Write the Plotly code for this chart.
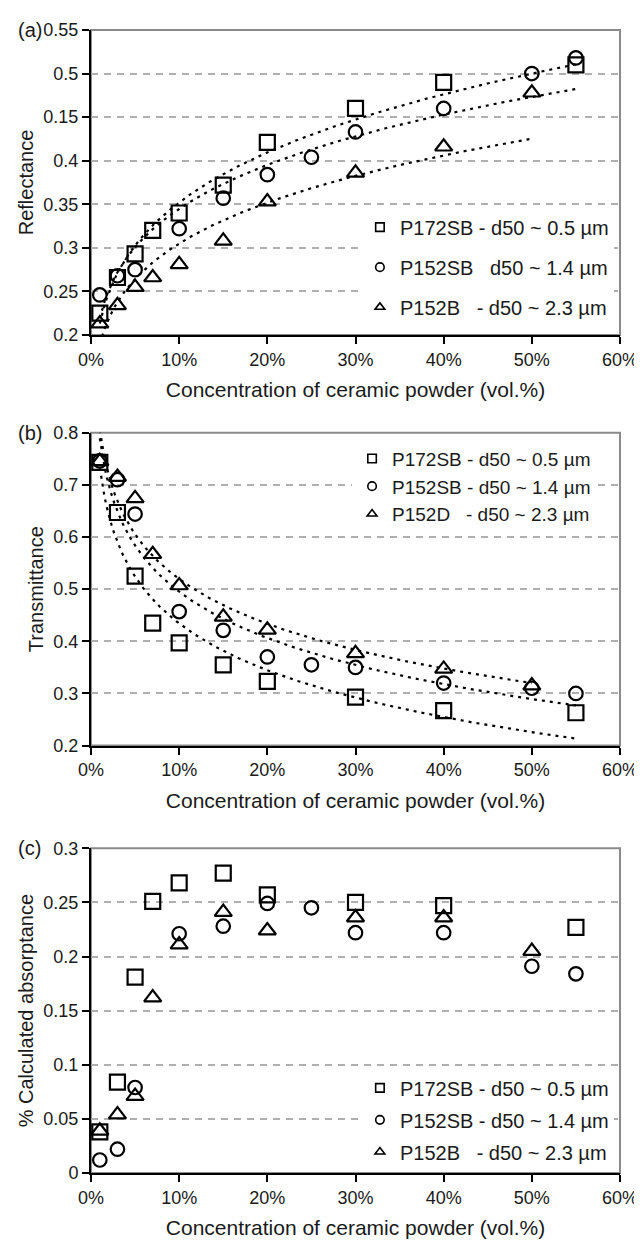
import numpy as np
import plotly.graph_objects as go

# ---------------- data ----------------
conc_p172sb = [1, 3, 5, 7, 10, 15, 20, 30, 40, 55]
conc_p152sb = [1, 3, 5, 10, 15, 20, 25, 30, 40, 50, 55]
conc_p152b = [1, 3, 5, 7, 10, 15, 20, 30, 40, 50]

refl_p172sb = [0.225, 0.266, 0.293, 0.320, 0.340, 0.372, 0.421, 0.460, 0.490, 0.510]
refl_p152sb = [0.246, 0.268, 0.275, 0.322, 0.357, 0.384, 0.404, 0.433, 0.460, 0.500, 0.518]
refl_p152b = [0.213, 0.234, 0.255, 0.266, 0.281, 0.308, 0.353, 0.386, 0.416, 0.478]

trans_p172sb = [0.743, 0.647, 0.525, 0.435, 0.397, 0.355, 0.323, 0.293, 0.267, 0.263]
trans_p152sb = [0.746, 0.710, 0.644, 0.457, 0.421, 0.370, 0.355, 0.350, 0.320, 0.310, 0.300]
trans_p152b = [0.745, 0.715, 0.674, 0.567, 0.507, 0.447, 0.422, 0.377, 0.347, 0.315]

abs_p172sb = [0.038, 0.084, 0.181, 0.251, 0.268, 0.277, 0.257, 0.250, 0.247, 0.227]
abs_p152sb = [0.012, 0.022, 0.079, 0.221, 0.228, 0.249, 0.245, 0.222, 0.222, 0.191, 0.184]
abs_p152b = [0.039, 0.054, 0.071, 0.162, 0.211, 0.241, 0.224, 0.236, 0.236, 0.205]

legend_a = ["P172SB - d50 ~ 0.5 µm", "P152SB \u00a0 d50 ~ 1.4 µm", "P152B \u00a0 - d50 ~ 2.3 µm"]
legend_b = ["P172SB - d50 ~ 0.5 µm", "P152SB - d50 ~ 1.4 µm", "P152D \u00a0 - d50 ~ 2.3 µm"]
legend_c = ["P172SB - d50 ~ 0.5 µm", "P152SB - d50 ~ 1.4 µm", "P152B \u00a0 - d50 ~ 2.3 µm"]

x_ticks = [0, 10, 20, 30, 40, 50, 60]
x_ticktext = ["0%", "10%", "20%", "30%", "40%", "50%", "60%"]
ya_ticks = [0.2, 0.25, 0.3, 0.35, 0.4, 0.45, 0.5, 0.55]
ya_ticktext = ["0.2", "0.25", "0.3", "0.35", "0.4", "0.15", "0.5", "0.55"]
yb_ticks = [0.2, 0.3, 0.4, 0.5, 0.6, 0.7, 0.8]
yb_ticktext = ["0.2", "0.3", "0.4", "0.5", "0.6", "0.7", "0.8"]
yc_ticks = [0, 0.05, 0.1, 0.15, 0.2, 0.25, 0.3]
yc_ticktext = ["0", "0.05", "0.1", "0.15", "0.2", "0.25", "0.3"]

x_title = "Concentration of ceramic powder (vol.%)"
FONT = "Liberation Sans, Arial, sans-serif"


def power_fit(x, y):
    b, ln_a = np.polyfit(np.log(x), np.log(y), 1)
    xs = np.linspace(min(x), max(x), 200)
    return xs, np.exp(ln_a) * xs ** b


def log_fit(x, y):
    s, c = np.polyfit(np.log(x), y, 1)
    xs = np.linspace(min(x), max(x), 200)
    return xs, s * np.log(xs) + c


symbols = ["square-open", "circle-open", "triangle-up-open"]
msizes = [15, 13.5, 15]
concs = [conc_p172sb, conc_p152sb, conc_p152b]

panels = [
    ("x", "y", "legend", [refl_p172sb, refl_p152sb, refl_p152b], legend_a, power_fit),
    ("x2", "y2", "legend2", [trans_p172sb, trans_p152sb, trans_p152b], legend_b, log_fit),
    ("x3", "y3", "legend3", [abs_p172sb, abs_p152sb, abs_p152b], legend_c, None),
]

fig = go.Figure()
for xa, ya, lg, series, labels, fit in panels:
    if fit is not None:
        for cx, vals in zip(concs, series):
            fx, fy = fit(cx, vals)
            fig.add_trace(go.Scatter(x=fx, y=fy, mode="lines", xaxis=xa, yaxis=ya,
                                     line=dict(color="black", width=2.2, dash="3px,5px"),
                                     showlegend=False, hoverinfo="skip"))
    for i, (cx, vals) in enumerate(zip(concs, series)):
        fig.add_trace(go.Scatter(x=cx, y=vals, mode="markers", xaxis=xa, yaxis=ya,
                                 marker=dict(symbol=symbols[i], size=msizes[i], color="black",
                                             line=dict(color="black", width=2.2)),
                                 showlegend=False, cliponaxis=False))
    for i, lab in enumerate(labels):
        fig.add_trace(go.Scatter(x=[None], y=[None], mode="markers", xaxis=xa, yaxis=ya,
                                 name=lab, legend=lg, legendgroup=f"{lg}{i}",
                                 marker=dict(symbol=symbols[i], size=8.5, color="black",
                                             line=dict(color="black", width=1.6))))

ML, MR, MT, MB = 83, 20, 16, 66
W, H = 642, 1240
PH = H - MT - MB


def ydom(top_px, bot_px):
    return [(H - MB - bot_px) / PH, (H - MB - top_px) / PH]


def px_y(ypx):
    return (H - MB - ypx) / PH


def px_x(xpx):
    return (xpx - ML) / (W - ML - MR)


doms = [ydom(16, 325), ydom(424, 741), ydom(845, 1174)]
ranges = [[0.2, 0.55], [0.2, 0.8], [0, 0.3]]
yticks = [(ya_ticks, ya_ticktext), (yb_ticks, yb_ticktext), (yc_ticks, yc_ticktext)]
ytitles = ["Reflectance", "Transmittance", "% Calculated absorptance"]

layout = dict(
    width=W, height=H, margin=dict(l=ML, r=MR, t=MT, b=MB),
    paper_bgcolor="white", plot_bgcolor="white",
    font=dict(family=FONT, size=18, color="#1a1a1a"),
    showlegend=True,
)
for k in range(3):
    sx = "" if k == 0 else str(k + 1)
    layout["xaxis" + sx] = dict(
        domain=[0, 1], anchor="y" + sx, range=[0, 60], tickmode="array",
        tickvals=x_ticks, ticktext=x_ticktext, showgrid=False, zeroline=False,
        showline=True, linecolor="black", linewidth=2, ticks="outside", ticklen=7,
        tickwidth=2, tickcolor="black", tickfont=dict(size=18),
        title=dict(text=x_title, font=dict(size=21), standoff=14),
    )
    tv, tt = yticks[k]
    layout["yaxis" + sx] = dict(
        domain=doms[k], anchor="x" + sx, range=ranges[k], tickmode="array",
        tickvals=tv, ticktext=tt, showgrid=True, gridcolor="#b0b0b0", gridwidth=2,
        griddash="7px,6px", zeroline=False, showline=True, linecolor="black", linewidth=2,
        ticks="outside", ticklen=7, tickwidth=2, tickcolor="black", tickfont=dict(size=18),
        title=dict(text=ytitles[k], font=dict(size=20), standoff=4),
    )

leg_common = dict(bgcolor="white", borderwidth=0, xanchor="left", yanchor="top",
                  traceorder="grouped", itemsizing="trace")
layout["legend"] = dict(leg_common, x=px_x(357), y=px_y(196), font=dict(size=20), tracegroupgap=11)
layout["legend2"] = dict(leg_common, x=px_x(349), y=px_y(431), font=dict(size=19), tracegroupgap=0)
layout["legend3"] = dict(leg_common, x=px_x(357), y=px_y(1068), font=dict(size=20), tracegroupgap=3)

shapes = []
annotations = []
for k, lab in enumerate(["(a)", "(b)", "(c)"]):
    sx = "" if k == 0 else str(k + 1)
    shapes.append(dict(type="rect", xref=f"x{sx} domain", yref=f"y{sx} domain",
                       x0=0, x1=1, y0=0, y1=1, line=dict(color="#8a8a8a", width=2),
                       layer="below"))
    annotations.append(dict(text=lab, xref="paper", yref=f"y{sx} domain", x=px_x(7), y=1,
                            xanchor="left", yanchor="middle", showarrow=False,
                            font=dict(size=20)))
layout["shapes"] = shapes
layout["annotations"] = annotations

fig.update_layout(**layout)
fig.write_html("out.html")
